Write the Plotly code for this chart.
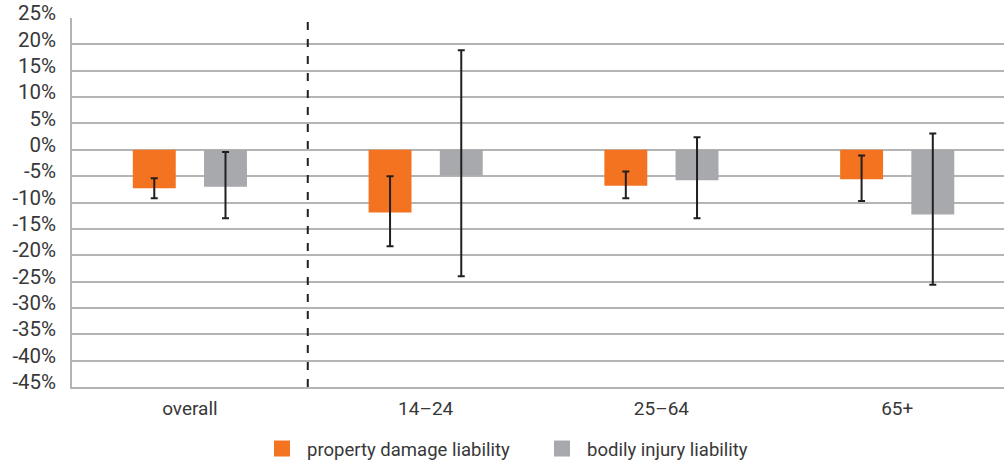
import plotly.graph_objects as go

# Change in claim frequency by driver age group, with 95% confidence limits (percent)
categories = ["overall", "14–24", "25–64", "65+"]

property_damage = [-7.3, -11.9, -6.8, -5.6]
property_damage_low = [-9.2, -18.3, -9.2, -9.7]
property_damage_high = [-5.4, -5.0, -4.1, -1.1]

bodily_injury = [-7.0, -4.9, -5.8, -12.3]
bodily_injury_low = [-13.0, -24.0, -13.0, -25.6]
bodily_injury_high = [-0.4, 18.9, 2.4, 3.1]

y_ticks = list(range(-45, 30, 5))
y_tick_text = [f"{v}%" for v in y_ticks]

ORANGE = "#f37321"
GRAY = "#a7a9ac"
INK = "#231f20"
TEXT = "#383838"
GRID = "#b4b4b4"


def errors(values, low, high):
    return dict(
        type="data",
        symmetric=False,
        array=[h - v for v, h in zip(values, high)],
        arrayminus=[v - l for v, l in zip(values, low)],
        color=INK,
        thickness=2,
        width=3.5,
    )


fig = go.Figure()

fig.add_trace(go.Bar(
    x=categories, y=property_damage, name="property damage liability",
    marker=dict(color=ORANGE, line=dict(width=0)),
    error_y=errors(property_damage, property_damage_low, property_damage_high),
    showlegend=False,
))
fig.add_trace(go.Bar(
    x=categories, y=bodily_injury, name="bodily injury liability",
    marker=dict(color=GRAY, line=dict(width=0)),
    error_y=errors(bodily_injury, bodily_injury_low, bodily_injury_high),
    showlegend=False,
))

# Square legend keys
for name, color in [("property damage liability", ORANGE), ("bodily injury liability", GRAY)]:
    fig.add_trace(go.Scatter(
        x=[None], y=[None], mode="markers", name=name,
        marker=dict(symbol="square", size=19, color=color, line=dict(width=0)),
        hoverinfo="skip",
    ))

# Dashed separator between the overall result and the age groups
fig.add_shape(
    type="line", xref="x", yref="paper", x0=0.5, x1=0.5, y0=0, y1=1,
    line=dict(color=INK, width=2, dash="8px,9px"), layer="above",
)

fig.update_layout(
    width=1004, height=462,
    margin=dict(l=72, r=0, t=18, b=75, autoexpand=False),
    paper_bgcolor="white", plot_bgcolor="white",
    barmode="group", bargap=0.396, bargroupgap=0.397,
    font=dict(family="Roboto, Arial, sans-serif", color=TEXT),
    showlegend=True,
    legend=dict(
        orientation="h", xref="container", yref="container",
        x=0.256, xanchor="left", y=1 - 449 / 462, yanchor="middle",
        font=dict(size=18.5, color=TEXT), entrywidth=225, itemsizing="trace",
        itemwidth=40, bgcolor="rgba(0,0,0,0)",
    ),
    xaxis=dict(
        range=[-0.5, 3.453], showgrid=False, showline=True, linecolor=GRID,
        linewidth=1.5, ticks="", tickfont=dict(size=19, color=TEXT),
        ticklabelstandoff=3, fixedrange=True,
    ),
    yaxis=dict(
        range=[-45, 25], tickvals=y_ticks, ticktext=y_tick_text,
        showgrid=True, gridcolor=GRID, gridwidth=1.5,
        zeroline=True, zerolinecolor=GRID, zerolinewidth=1.5,
        showline=True, linecolor=GRID, linewidth=1.5,
        ticks="", ticklabelstandoff=10, ticklabelshift=-5,
        tickfont=dict(size=20.5, color=TEXT), fixedrange=True,
    ),
)

fig.write_html("out.html")
